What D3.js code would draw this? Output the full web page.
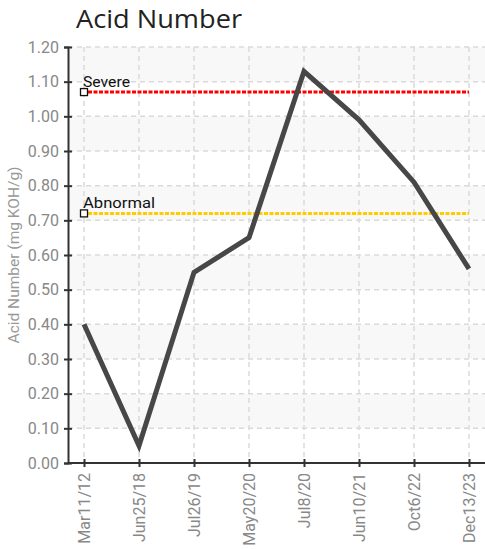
<!DOCTYPE html>
<html><head><meta charset="utf-8">
<script src="https://cdn.jsdelivr.net/npm/d3@7"></script>
<style>body{margin:0;background:#fff}svg{display:block}</style>
</head><body>
<svg id="c" width="485" height="549"></svg>
<script>
const categories = ["Mar11/12","Jun25/18","Jul26/19","May20/20","Jul8/20","Jun10/21","Oct6/22","Dec13/23"];
const values = [0.40, 0.05, 0.55, 0.65, 1.13, 0.99, 0.81, 0.56];
const yTicks = [0,0.1,0.2,0.3,0.4,0.5,0.6,0.7,0.8,0.9,1.0,1.1,1.2];
const thresholdNames = ["Severe","Abnormal"];
const thresholdValues = [1.07, 0.72];
const thresholdColors = ["#ff0000","#ffcc00"];

const svg = d3.select("#c");
const pL = 68, pR = 485, pT = 47, pB = 463;
const x = d3.scalePoint().domain(categories).range([84, 469]);
const y = d3.scaleLinear().domain([0, 1.2]).range([pB, pT]);

// alternating bands
const bands = svg.append("g");
for (let i = 0; i < yTicks.length - 1; i++) {
  if ((yTicks.length - 2 - i) % 2 === 0) {
    bands.append("rect").attr("x", pL).attr("width", pR - pL)
      .attr("y", y(yTicks[i+1])).attr("height", y(yTicks[i]) - y(yTicks[i+1]))
      .attr("fill", "#f8f8f8");
  }
}
// grid
const grid = svg.append("g").attr("stroke", "#dadada").attr("stroke-width", 1.5).attr("stroke-dasharray", "5,4");
yTicks.slice(1).forEach(t => grid.append("line").attr("x1", pL).attr("x2", pR).attr("y1", y(t)).attr("y2", y(t)));
categories.forEach(c => grid.append("line").attr("x1", x(c)).attr("x2", x(c)).attr("y1", pT).attr("y2", pB));

// thresholds
thresholdValues.forEach((v, i) => {
  svg.append("line").attr("x1", x(categories[0]) + 4).attr("x2", x(categories[categories.length-1]))
    .attr("y1", y(v)).attr("y2", y(v)).attr("stroke", thresholdColors[i]).attr("stroke-width", 3)
    .attr("stroke-dasharray", "4,1.5");
});

// line
svg.append("path").datum(values)
  .attr("d", d3.line().x((d, i) => x(categories[i])).y(d => y(d)))
  .attr("fill", "none").attr("stroke", "#474747").attr("stroke-width", 5).attr("stroke-linejoin", "miter");

// threshold markers & labels
thresholdValues.forEach((v, i) => {
  svg.append("rect").attr("x", x(categories[0]) - 3.5).attr("y", y(v) - 3.5).attr("width", 7).attr("height", 7)
    .attr("fill", "#fff").attr("stroke", "#111").attr("stroke-width", 1.3);
  svg.append("text").attr("x", x(categories[0]) - 1).attr("y", y(v) - 5).text(thresholdNames[i])
    .attr("font-family", "Roboto, sans-serif").attr("font-size", 15).attr("fill", "#111")
    .attr("textLength", i === 0 ? 47 : 72).attr("lengthAdjust", "spacingAndGlyphs");
});

// axes
const yAxis = svg.append("g").attr("transform", `translate(${pL},0)`)
  .call(d3.axisLeft(y).tickValues(yTicks).tickFormat(d3.format(".2f")).tickSize(4).tickPadding(5));
yAxis.selectAll(".tick line").attr("x1", -4).attr("x2", 4);
const xAxis = svg.append("g").attr("transform", `translate(0,${pB})`)
  .call(d3.axisBottom(x).tickSize(4).tickPadding(8));
xAxis.select(".domain").attr("d", `M${pL},0H${pR}`);
xAxis.selectAll(".tick line").attr("y1", -4).attr("y2", 4);
[yAxis, xAxis].forEach(a => {
  a.select(".domain").attr("stroke", "#333").attr("stroke-width", 2);
  a.selectAll(".tick line").attr("stroke", "#333").attr("stroke-width", 2);
  a.selectAll(".tick text").attr("font-family", "Roboto, sans-serif").attr("font-size", 16).attr("fill", "#888");
});
xAxis.selectAll(".tick text").attr("transform", "rotate(-90)").attr("text-anchor", "end")
  .attr("x", -10).attr("y", 0).attr("dy", "0.35em");

// titles
svg.append("text").attr("x", 76).attr("y", 28).text("Acid Number")
  .attr("font-family", "'Open Sans', sans-serif").attr("font-size", 26).attr("fill", "#222")
  .attr("textLength", 166).attr("lengthAdjust", "spacingAndGlyphs");
svg.append("text").attr("transform", `translate(19,${(pT+pB)/2}) rotate(-90)`).attr("text-anchor", "middle")
  .text("Acid Number (mg KOH/g)").attr("font-family", "Roboto, sans-serif").attr("font-size", 15.5).attr("fill", "#999");
</script>
</body></html>
